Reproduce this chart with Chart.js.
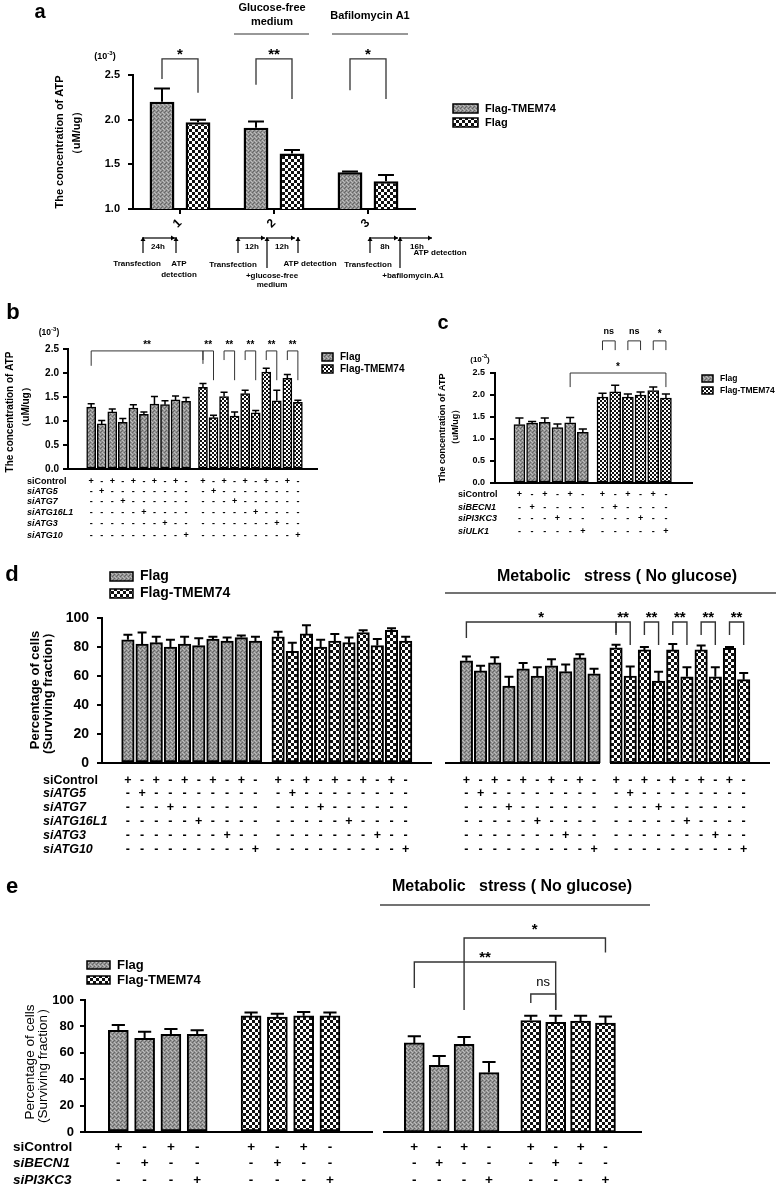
<!DOCTYPE html>
<html>
<head>
<meta charset="utf-8">
<script src="https://cdn.jsdelivr.net/npm/chart.js@4.4.1/dist/chart.umd.min.js"></script>
<style>
html, body { margin: 0; padding: 0; background: #fff; }
body { width: 778px; height: 1190px; position: relative; overflow: hidden; }
canvas { position: absolute; }
</style>
</head>
<body>
<script>
const FONT = '"Liberation Sans", Arial, Helvetica, sans-serif';

// ---------- data ----------
// a: ATP, 3 conditions
const aConditions = ['1', '2', '3'];
const aTmem = [2.20, 1.91, 1.41];
const aTmemErr = [0.15, 0.07, 0.01];
const aFlag = [1.97, 1.62, 1.31];
const aFlagErr = [0.03, 0.04, 0.07];
const atpTicksA = [1.0, 1.5, 2.0, 2.5];

// b: ATP with ATG siRNAs
const bFlag = [1.29, 0.94, 1.19, 0.97, 1.27, 1.14, 1.35, 1.34, 1.44, 1.41];
const bFlagErr = [0.07, 0.07, 0.06, 0.08, 0.07, 0.05, 0.16, 0.08, 0.08, 0.08];
const bTmem = [1.70, 1.07, 1.51, 1.10, 1.57, 1.17, 2.02, 1.42, 1.89, 1.39];
const bTmemErr = [0.08, 0.05, 0.09, 0.09, 0.07, 0.05, 0.08, 0.22, 0.08, 0.04];
const atpTicks = [0, 0.5, 1.0, 1.5, 2.0, 2.5];
const atgRows = ['siControl', 'siATG5', 'siATG7', 'siATG16L1', 'siATG3', 'siATG10'];
const atgMarks = ['+-+-+-+-+-', '-+--------', '---+------', '-----+----', '-------+--', '---------+'];

// c: ATP with BECN1 / PI3KC3 / ULK1 siRNAs
const cFlag = [1.33, 1.36, 1.38, 1.26, 1.37, 1.15];
const cFlagErr = [0.15, 0.04, 0.10, 0.08, 0.12, 0.08];
const cTmem = [1.95, 2.07, 1.95, 2.00, 2.10, 1.93];
const cTmemErr = [0.09, 0.15, 0.07, 0.07, 0.08, 0.09];
const ulkRows = ['siControl', 'siBECN1', 'siPI3KC3', 'siULK1'];
const ulkMarks = ['+-+-+-', '-+----', '---+--', '-----+'];

// d: surviving fraction, ATG siRNAs
const dFlag = [85, 82, 83, 80, 82, 81, 85.5, 84, 86.5, 84];
const dFlagErr = [3.5, 8, 4, 5, 5, 5, 1.5, 2.5, 1.5, 3];
const dTmem = [87, 77, 89, 80, 84, 83, 90, 81, 91.5, 84];
const dTmemErr = [3.5, 6, 6, 5, 5, 3.5, 1.5, 4.5, 1.5, 3];
const dFlagStress = [70.5, 63.5, 69, 53, 65, 60, 67, 63, 72.5, 61.5];
const dFlagStressErr = [3, 3.5, 4, 6.5, 4, 6, 4.5, 5, 2.5, 3.5];
const dTmemStress = [79.5, 60, 78, 56.5, 78, 59.5, 78, 59.5, 79, 57.5];
const dTmemStressErr = [2, 6.5, 2, 6.5, 4, 6.5, 3, 6.5, 1, 4.5];
const pctTicks = [0, 20, 40, 60, 80, 100];

// e: surviving fraction, BECN1 / PI3KC3 siRNAs
const eFlag = [77, 71, 74, 74];
const eFlagErr = [4, 5, 4, 3];
const eTmem = [88, 87, 88, 88];
const eTmemErr = [2.5, 2.5, 3, 2.5];
const eFlagStress = [67.5, 50.5, 66.5, 45];
const eFlagStressErr = [5, 7, 5.5, 8];
const eTmemStress = [84.5, 83, 84, 82.5];
const eTmemStressErr = [3.5, 5, 4, 5];
const becnRows = ['siControl', 'siBECN1', 'siPI3KC3'];
const becnMarks = ['+-+-', '-+--', '---+'];

// ---------- fills ----------
const pctx = document.createElement('canvas').getContext('2d');
function grayFill() {
  const c = document.createElement('canvas'); c.width = 4; c.height = 4;
  const g = c.getContext('2d');
  g.fillStyle = '#939393'; g.fillRect(0, 0, 4, 4);
  g.fillStyle = '#666'; g.fillRect(0, 0, 1, 1); g.fillRect(2, 2, 1, 1); g.fillRect(1, 3, 1, 1);
  g.fillStyle = '#bdbdbd'; g.fillRect(2, 0, 1, 1); g.fillRect(0, 2, 1, 1); g.fillRect(3, 1, 1, 1);
  return pctx.createPattern(c, 'repeat');
}
function checkFill(s) {
  const c = document.createElement('canvas'); c.width = 2 * s; c.height = 2 * s;
  const g = c.getContext('2d');
  g.fillStyle = '#fff'; g.fillRect(0, 0, 2 * s, 2 * s);
  g.fillStyle = '#111'; g.fillRect(0, 0, s, s); g.fillRect(s, s, s, s);
  return pctx.createPattern(c, 'repeat');
}
const GRAY = grayFill();
const CHK2 = checkFill(2);
const CHK3 = checkFill(3);

// ---------- small drawing helpers ----------
function txt(ctx, t, x, y, size, o = {}) {
  ctx.save();
  ctx.font = (o.italic ? 'italic ' : '') + (o.bold === false ? '' : 'bold ') + size + 'px ' + FONT;
  ctx.fillStyle = '#000';
  ctx.textAlign = o.align || 'center';
  ctx.textBaseline = 'middle';
  ctx.translate(x, y);
  if (o.rot) ctx.rotate(o.rot);
  ctx.fillText(t, 0, 0);
  ctx.restore();
}
function line(ctx, x1, y1, x2, y2, w, col) {
  ctx.save();
  ctx.strokeStyle = col || '#000'; ctx.lineWidth = w || 1;
  ctx.beginPath(); ctx.moveTo(x1, y1); ctx.lineTo(x2, y2); ctx.stroke();
  ctx.restore();
}
function upArrow(ctx, x, y1, y2) {
  line(ctx, x, y1, x, y2, 1.2);
  ctx.beginPath(); ctx.moveTo(x - 2.5, y2 + 4); ctx.lineTo(x, y2); ctx.lineTo(x + 2.5, y2 + 4); ctx.fill();
}
function rightArrow(ctx, x1, x2, y) {
  line(ctx, x1, y, x2, y, 1.2);
  ctx.beginPath(); ctx.moveTo(x2 - 4, y - 2.5); ctx.lineTo(x2, y); ctx.lineTo(x2 - 4, y + 2.5); ctx.fill();
}
function swatch(ctx, x, y, w, h, fill, t, size) {
  ctx.save();
  ctx.fillStyle = fill; ctx.fillRect(x, y, w, h);
  ctx.strokeStyle = '#000'; ctx.lineWidth = 1.5; ctx.strokeRect(x, y, w, h);
  ctx.restore();
  txt(ctx, t, x + w + 7, y + h / 2, size, { align: 'left' });
}
function tenPow(ctx, x, y, s) {
  ctx.save();
  ctx.fillStyle = '#000'; ctx.textBaseline = 'middle'; ctx.textAlign = 'left';
  const big = 'bold ' + s + 'px ' + FONT, small = 'bold ' + Math.round(s * 0.7) + 'px ' + FONT;
  ctx.font = big; const w1 = ctx.measureText('(10').width, w3 = ctx.measureText(')').width;
  ctx.font = small; const w2 = ctx.measureText('-3').width;
  let cx = x - (w1 + w2 + w3) / 2;
  ctx.font = big; ctx.fillText('(10', cx, y); cx += w1;
  ctx.font = small; ctx.fillText('-3', cx, y - s * 0.45); cx += w2;
  ctx.font = big; ctx.fillText(')', cx, y);
  ctx.restore();
}
const at = (vals, shift) => vals.map((v, i) => ({ x: i + shift, y: v }));

// ---------- plugin: error bars, brackets, +/- table, free text ----------
function deco(cfg) {
  return {
    id: 'deco',
    afterDatasetsDraw(chart) {
      const ctx = chart.ctx, ys = chart.scales.y;
      ctx.save();
      ctx.strokeStyle = '#000'; ctx.lineWidth = cfg.errW || 2;
      cfg.vals.forEach((vals, d) => {
        chart.getDatasetMeta(d).data.forEach((el, i) => {
          const top = ys.getPixelForValue(vals[i] + cfg.errs[d][i]);
          const hw = el.width * 0.28 + 1;
          ctx.beginPath();
          ctx.moveTo(el.x, el.y); ctx.lineTo(el.x, top);
          ctx.moveTo(el.x - hw, top); ctx.lineTo(el.x + hw, top);
          ctx.stroke();
        });
      });
      ctx.restore();
    },
    afterDraw(chart) {
      const ctx = chart.ctx, ys = chart.scales.y, a = chart.chartArea;
      const L = cfg.box[0], T = cfg.box[1];
      const bx = (d, i) => chart.getDatasetMeta(d).data[i].x;
      (cfg.base || []).forEach(s => line(ctx, s[0] - L, a.bottom, s[1] - L, a.bottom, 2));
      (cfg.brackets || []).forEach(b => {
        const xa = bx(b.a[0], b.a[1]), xb = bx(b.b[0], b.b[1]);
        ctx.save();
        ctx.strokeStyle = '#333'; ctx.lineWidth = cfg.brW || 1.3;
        ctx.beginPath();
        ctx.moveTo(xa, ys.getPixelForValue(b.la));
        ctx.lineTo(xa, ys.getPixelForValue(b.top));
        ctx.lineTo(xb, ys.getPixelForValue(b.top));
        ctx.lineTo(xb, ys.getPixelForValue(b.lb));
        ctx.stroke();
        ctx.restore();
        const star = b.text.indexOf('*') >= 0;
        txt(ctx, b.text, (xa + xb) / 2, ys.getPixelForValue(b.ty) + (star ? b.size * 0.3 : 0),
          b.size, { bold: b.bold !== false });
      });
      if (cfg.table) {
        const tb = cfg.table;
        tb.rows.forEach((label, r) => {
          const y = tb.ys[r] - T;
          if (tb.labelX != null) txt(ctx, label, tb.labelX - L, y, tb.size, { align: 'left', italic: r > 0 });
          cfg.vals.forEach((vals, d) => vals.forEach((v, i) => txt(ctx, tb.marks[r][i], bx(d, i), y, tb.size)));
        });
      }
      if (cfg.extra) {
        ctx.save();
        ctx.translate(-L, -T);
        ctx.fillStyle = '#000';
        cfg.extra(ctx);
        ctx.restore();
      }
    }
  };
}

// ---------- chart builder ----------
function barPanel(cfg) {
  const [L, T, W, H] = cfg.box;
  const c = document.createElement('canvas');
  c.width = W; c.height = H;
  c.style.left = L + 'px'; c.style.top = T + 'px';
  c.style.width = W + 'px'; c.style.height = H + 'px';
  document.body.appendChild(c);
  const ax0 = cfg.area[0] - L, ay0 = cfg.area[1] - T, ax1 = cfg.area[2] - L, ay1 = cfg.area[3] - T;
  const cat = !!cfg.labels;
  const y = {
    display: !!cfg.showY,
    min: cfg.yTicks[0], max: cfg.yTicks[cfg.yTicks.length - 1],
    afterBuildTicks: s => { s.ticks = cfg.yTicks.map(v => ({ value: v })); },
    grid: { drawOnChartArea: false, color: '#000', lineWidth: 2, tickLength: 5 },
    border: { color: '#000', width: 2 },
    ticks: {
      color: '#000', padding: cfg.tickPad || 6,
      font: { family: FONT, size: cfg.tickSize || 11, weight: 'bold' },
      callback: v => cfg.fmt ? v.toFixed(1) : String(v)
    }
  };
  if (cfg.showY) y.afterFit = s => { s.width = ax0; };
  const x = cat ? {
    type: 'category',
    afterFit: s => { s.height = H - ay1; },
    grid: { offset: false, drawOnChartArea: false, color: '#000', lineWidth: 2, tickLength: 5 },
    border: { color: '#000', width: 2 },
    ticks: { color: '#000', minRotation: 45, maxRotation: 45, padding: 2,
      font: { family: FONT, size: 12, weight: 'bold' } }
  } : {
    type: 'linear', display: false, min: cfg.xMin, max: cfg.xMax,
    ticks: { includeBounds: false, stepSize: 1 }
  };
  return new Chart(c, {
    type: 'bar',
    data: { labels: cfg.labels, datasets: cfg.datasets },
    options: {
      responsive: false, animation: false, devicePixelRatio: 1,
      layout: { padding: { left: cfg.showY ? 0 : ax0, top: ay0, right: W - ax1, bottom: cat ? 0 : H - ay1 } },
      plugins: { legend: { display: false }, tooltip: { enabled: false } },
      scales: { x, y }
    },
    plugins: [deco(cfg)]
  });
}
function ds(label, data, fill, opt) {
  return Object.assign({ label, data, backgroundColor: fill, borderColor: '#000',
    borderSkipped: false, grouped: false }, opt);
}

// ---------- panel a ----------
barPanel({
  box: [0, 0, 600, 300], area: [133, 75, 415, 209], showY: true,
  labels: aConditions, yTicks: atpTicksA, fmt: true, tickSize: 11, tickPad: 8,
  datasets: [
    { label: 'Flag-TMEM74', data: aTmem, backgroundColor: GRAY, borderColor: '#000', borderWidth: 2.5,
      borderSkipped: false, categoryPercentage: 0.766, barPercentage: 0.69 },
    { label: 'Flag', data: aFlag, backgroundColor: CHK3, borderColor: '#000', borderWidth: 2.5,
      borderSkipped: false, categoryPercentage: 0.766, barPercentage: 0.69 }
  ],
  vals: [aTmem, aFlag], errs: [aTmemErr, aFlagErr], errW: 2,
  brackets: [
    { a: [0, 0], b: [1, 0], top: 2.68, la: 2.455, lb: 2.30, text: '*', ty: 2.78, size: 15 },
    { a: [0, 1], b: [1, 1], top: 2.68, la: 2.39, lb: 2.23, text: '**', ty: 2.78, size: 15 },
    { a: [0, 2], b: [1, 2], top: 2.68, la: 2.33, lb: 2.23, text: '*', ty: 2.78, size: 15 }
  ],
  extra: ctx => {
    txt(ctx, 'a', 40, 12, 20);
    txt(ctx, 'Glucose-free', 272, 8, 11);
    txt(ctx, 'medium', 272, 22, 11);
    line(ctx, 234, 34, 309, 34, 1.2, '#333');
    txt(ctx, 'Bafilomycin A1', 370, 16, 11);
    line(ctx, 332, 34, 408, 34, 1.2, '#333');
    tenPow(ctx, 105, 57, 9);
    txt(ctx, 'The concentration of ATP', 60, 142, 11, { rot: -Math.PI / 2 });
    txt(ctx, '（uM/ug）', 77, 133, 11, { rot: -Math.PI / 2 });
    swatch(ctx, 453, 104, 25, 9, GRAY, 'Flag-TMEM74', 11);
    swatch(ctx, 453, 118, 25, 9, CHK3, 'Flag', 11);
    // protocol timelines
    upArrow(ctx, 143, 253, 237); rightArrow(ctx, 143, 175, 238); upArrow(ctx, 176, 253, 237);
    txt(ctx, '24h', 158, 247, 8);
    txt(ctx, 'Transfection', 137, 264, 8);
    txt(ctx, 'ATP', 179, 264, 8); txt(ctx, 'detection', 179, 275, 8);
    upArrow(ctx, 238, 253, 237); rightArrow(ctx, 238, 265, 238);
    upArrow(ctx, 267, 268, 237); rightArrow(ctx, 268, 295, 238); upArrow(ctx, 298, 253, 237);
    txt(ctx, '12h', 252, 247, 8); txt(ctx, '12h', 282, 247, 8);
    txt(ctx, 'Transfection', 233, 265, 8);
    txt(ctx, '+glucose-free', 272, 276, 8); txt(ctx, 'medium', 272, 285, 8);
    txt(ctx, 'ATP detection', 310, 264, 8);
    upArrow(ctx, 370, 253, 237); rightArrow(ctx, 370, 398, 238);
    upArrow(ctx, 400, 268, 237); rightArrow(ctx, 400, 432, 238);
    txt(ctx, '8h', 385, 247, 8); txt(ctx, '16h', 417, 247, 8);
    txt(ctx, 'Transfection', 368, 265, 8);
    txt(ctx, '+bafilomycin.A1', 413, 276, 8);
    txt(ctx, 'ATP detection', 440, 253, 8);
  }
});

// ---------- panel b ----------
barPanel({
  box: [0, 300, 420, 260], area: [68, 349, 318, 469], showY: true,
  xMin: -1.12, xMax: 20.43, yTicks: atpTicks, fmt: true, tickSize: 10, tickPad: 4,
  datasets: [
    ds('Flag', at(bFlag, 0), GRAY, { borderWidth: 1.5, barThickness: 9 }),
    ds('Flag-TMEM74', at(bTmem, 10.6), CHK2, { borderWidth: 1.5, barThickness: 9 })
  ],
  vals: [bFlag, bTmem], errs: [bFlagErr, bTmemErr], errW: 1.5, brW: 1,
  base: [[68, 318]],
  brackets: [
    { a: [0, 0], b: [1, 0], top: 2.46, la: 2.15, lb: 2.19, text: '**', ty: 2.65, size: 10 },
    { a: [1, 0], b: [1, 1], top: 2.46, la: 2.27, lb: 1.85, text: '**', ty: 2.65, size: 10 },
    { a: [1, 2], b: [1, 3], top: 2.46, la: 2.27, lb: 1.85, text: '**', ty: 2.65, size: 10 },
    { a: [1, 4], b: [1, 5], top: 2.46, la: 2.27, lb: 1.85, text: '**', ty: 2.65, size: 10 },
    { a: [1, 6], b: [1, 7], top: 2.46, la: 2.27, lb: 1.85, text: '**', ty: 2.65, size: 10 },
    { a: [1, 8], b: [1, 9], top: 2.46, la: 2.27, lb: 1.85, text: '**', ty: 2.65, size: 10 }
  ],
  table: { rows: atgRows, marks: atgMarks, ys: [482, 492, 502, 513, 524, 536], labelX: 27, size: 9 },
  extra: ctx => {
    txt(ctx, 'b', 13, 313, 22);
    tenPow(ctx, 49, 333, 8.5);
    txt(ctx, 'The concentration of ATP', 10, 412, 10, { rot: -Math.PI / 2 });
    txt(ctx, '（uM/ug）', 26, 407, 10, { rot: -Math.PI / 2 });
    swatch(ctx, 322, 353, 11, 8, GRAY, 'Flag', 10);
    swatch(ctx, 322, 365, 11, 8, CHK2, 'Flag-TMEM74', 10);
  }
});

// ---------- panel c ----------
barPanel({
  box: [400, 300, 378, 260], area: [495, 373, 693, 483], showY: true,
  xMin: -0.81, xMax: 12.57, yTicks: atpTicks, fmt: true, tickSize: 9, tickPad: 5,
  datasets: [
    ds('Flag', at(cFlag, 0), GRAY, { borderWidth: 1.5, barThickness: 11 }),
    ds('Flag-TMEM74', at(cTmem, 6.55), CHK2, { borderWidth: 1.5, barThickness: 11 })
  ],
  vals: [cFlag, cTmem], errs: [cFlagErr, cTmemErr], errW: 1.5, brW: 1,
  base: [[495, 693]],
  brackets: [
    { a: [1, 0], b: [1, 1], top: 3.23, la: 3.02, lb: 3.02, text: 'ns', ty: 3.45, size: 9 },
    { a: [1, 2], b: [1, 3], top: 3.23, la: 3.02, lb: 3.02, text: 'ns', ty: 3.45, size: 9 },
    { a: [1, 4], b: [1, 5], top: 3.23, la: 3.02, lb: 3.02, text: '*', ty: 3.45, size: 10 },
    { a: [0, 4], b: [1, 5], top: 2.5, la: 2.18, lb: 2.18, text: '*', ty: 2.70, size: 10 }
  ],
  table: { rows: ulkRows, marks: ulkMarks, ys: [495, 508, 519, 532], labelX: 458, size: 9 },
  extra: ctx => {
    txt(ctx, 'c', 443, 323, 20);
    tenPow(ctx, 480, 360, 8);
    txt(ctx, 'The concentration of ATP', 443, 428, 9, { rot: -Math.PI / 2 });
    txt(ctx, '（uM/ug）', 456, 427, 9, { rot: -Math.PI / 2 });
    swatch(ctx, 702, 375, 11, 7, GRAY, 'Flag', 8.5);
    swatch(ctx, 702, 387, 11, 7, CHK2, 'Flag-TMEM74', 8.5);
  }
});

// ---------- panel d ----------
barPanel({
  box: [0, 560, 440, 300], area: [102, 618, 432, 763], showY: true,
  xMin: -0.77, xMax: 20.4, yTicks: pctTicks, tickSize: 14, tickPad: 8,
  datasets: [
    ds('Flag', at(dFlag, 0), GRAY, { borderWidth: 2, barThickness: 12.5 }),
    ds('Flag-TMEM74', at(dTmem, 10.6), CHK3, { borderWidth: 2, barThickness: 12.5 })
  ],
  vals: [dFlag, dTmem], errs: [dFlagErr, dTmemErr], errW: 2,
  base: [[102, 432]],
  table: { rows: atgRows, marks: atgMarks, ys: [781, 794, 808, 822, 836, 850], labelX: 43, size: 12.5 },
  extra: ctx => {
    txt(ctx, 'd', 12, 575, 22);
    swatch(ctx, 110, 572, 23, 9, GRAY, 'Flag', 14);
    swatch(ctx, 110, 589, 23, 9, CHK3, 'Flag-TMEM74', 14);
    txt(ctx, 'Percentage of cells', 35, 690, 13, { rot: -Math.PI / 2 });
    txt(ctx, '(Surviving fraction）', 48, 690, 13, { rot: -Math.PI / 2 });
  }
});
barPanel({
  box: [440, 560, 338, 300], area: [445, 618, 775, 763], showY: false,
  xMin: -0.45, xMax: 20.7, yTicks: pctTicks,
  datasets: [
    ds('Flag', at(dFlagStress, 0), GRAY, { borderWidth: 2, barThickness: 12.5 }),
    ds('Flag-TMEM74', at(dTmemStress, 10.55), CHK3, { borderWidth: 2, barThickness: 12.5 })
  ],
  vals: [dFlagStress, dTmemStress], errs: [dFlagStressErr, dTmemStressErr], errW: 2, brW: 1.4,
  base: [[445, 600], [610, 770]],
  brackets: [
    { a: [0, 0], b: [1, 0], top: 97.2, la: 86.2, lb: 89.7, text: '*', ty: 103.4, size: 15 },
    { a: [1, 0], b: [1, 1], top: 97.2, la: 88.3, lb: 81.4, text: '**', ty: 103.4, size: 15 },
    { a: [1, 2], b: [1, 3], top: 97.2, la: 88.3, lb: 81.4, text: '**', ty: 103.4, size: 15 },
    { a: [1, 4], b: [1, 5], top: 97.2, la: 88.3, lb: 81.4, text: '**', ty: 103.4, size: 15 },
    { a: [1, 6], b: [1, 7], top: 97.2, la: 88.3, lb: 81.4, text: '**', ty: 103.4, size: 15 },
    { a: [1, 8], b: [1, 9], top: 97.2, la: 88.3, lb: 81.4, text: '**', ty: 103.4, size: 15 }
  ],
  table: { rows: atgRows, marks: atgMarks, ys: [781, 794, 808, 822, 836, 850], size: 12.5 },
  extra: ctx => {
    txt(ctx, 'Metabolic   stress ( No glucose)', 617, 577, 16);
    line(ctx, 445, 593, 776, 593, 1.5, '#444');
  }
});

// ---------- panel e ----------
barPanel({
  box: [0, 870, 380, 320], area: [85, 1000, 373, 1132], showY: true,
  xMin: -0.72, xMax: 9.14, yTicks: pctTicks, tickSize: 13, tickPad: 6,
  datasets: [
    ds('Flag', at(eFlag, 0), GRAY, { borderWidth: 2, barThickness: 20 }),
    ds('Flag-TMEM74', at(eTmem, 5.05), CHK3, { borderWidth: 2, barThickness: 20 })
  ],
  vals: [eFlag, eTmem], errs: [eFlagErr, eTmemErr], errW: 2,
  base: [[85, 373]],
  table: { rows: becnRows, marks: becnMarks, ys: [1147, 1163, 1180], labelX: 13, size: 13.5 },
  extra: ctx => {
    txt(ctx, 'e', 12, 887, 22);
    swatch(ctx, 87, 961, 23, 8, GRAY, 'Flag', 13);
    swatch(ctx, 87, 976, 23, 8, CHK3, 'Flag-TMEM74', 13);
    txt(ctx, 'Percentage of cells', 30, 1062, 13.5, { bold: false, rot: -Math.PI / 2 });
    txt(ctx, '(Surviving fraction）', 43, 1062, 13.5, { bold: false, rot: -Math.PI / 2 });
  }
});
barPanel({
  box: [380, 870, 398, 320], area: [383, 1000, 642, 1132], showY: false,
  xMin: -0.68, xMax: 8.57, yTicks: pctTicks,
  datasets: [
    ds('Flag', at(eFlagStress, 0), GRAY, { borderWidth: 2, barThickness: 20 }),
    ds('Flag-TMEM74', at(eTmemStress, 4.68), CHK3, { borderWidth: 2, barThickness: 20 })
  ],
  vals: [eFlagStress, eTmemStress], errs: [eFlagStressErr, eTmemStressErr], errW: 2, brW: 1.4,
  base: [[383, 642]],
  brackets: [
    { a: [0, 2], b: [1, 3], top: 147, la: 92.4, lb: 136, text: '*', ty: 156.8, size: 15 },
    { a: [0, 0], b: [1, 1], top: 128.8, la: 109, lb: 92.4, text: '**', ty: 135.6, size: 15 },
    { a: [1, 0], b: [1, 1], top: 104.5, la: 97.7, lb: 92.4, text: 'ns', ty: 113.6, size: 13, bold: false }
  ],
  table: { rows: becnRows, marks: becnMarks, ys: [1147, 1163, 1180], size: 13.5 },
  extra: ctx => {
    txt(ctx, 'Metabolic   stress ( No glucose)', 512, 887, 16);
    line(ctx, 380, 905, 650, 905, 1.5, '#444');
  }
});
</script>
</body>
</html>
